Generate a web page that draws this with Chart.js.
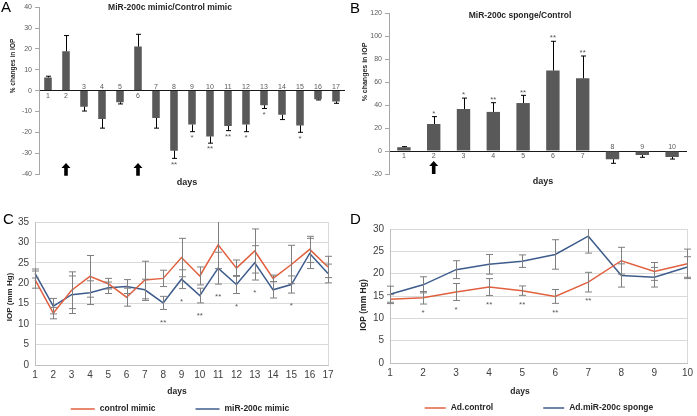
<!DOCTYPE html>
<html>
<head>
<meta charset="utf-8">
<script src="https://cdn.jsdelivr.net/npm/chart.js@4.4.1/dist/chart.umd.min.js"></script>
<style>
  html, body { margin: 0; padding: 0; background: #fff; }
  body { width: 697px; height: 416px; position: relative; overflow: hidden; }
  canvas { position: absolute; }
</style>
</head>
<body>
<canvas id="chartA" width="350" height="200" style="left:0;top:0"></canvas>
<canvas id="chartB" width="347" height="200" style="left:350px;top:0"></canvas>
<canvas id="chartC" width="350" height="206" style="left:0;top:210px"></canvas>
<canvas id="chartD" width="347" height="206" style="left:350px;top:210px"></canvas>
<script>
// A: % change in IOP, miR-200c mimic vs control mimic
const daysA = ['1','2','3','4','5','6','7','8','9','10','11','12','13','14','15','16','17'];
const changeA = [6.3, 18.9, -7.7, -13.6, -5.6, 21.1, -13.1, -28.8, -16.3, -22, -17, -16.3, -7, -11.6, -16.7, -4.2, -5.2];
const errA = [0.6, 7.5, 2.1, 4.4, 0.8, 5.9, 4.9, 3.7, 3.4, 3.2, 2.2, 3.4, 1.6, 2.3, 3.3, 0.3, 0.9];
const sigA = ['', '', '', '', '', '', '', '**', '*', '**', '**', '*', '*', '', '*', '', ''];
const arrowDaysA = ['2', '6'];

// B: % change in IOP, miR-200c sponge vs control
const daysB = ['1','2','3','4','5','6','7','8','9','10'];
const changeB = [3.3, 23.5, 36.5, 34, 41.7, 70, 63.2, -7.2, -3.5, -5.2];
const errB = [0.5, 6.4, 9.5, 8, 6.7, 25.4, 19.4, 3.5, 2, 1.8];
const sigB = ['', '*', '*', '**', '**', '**', '**', '', '', ''];
const arrowDaysB = ['2'];

// C: IOP (mm Hg)
const daysC = ['1','2','3','4','5','6','7','8','9','10','11','12','13','14','15','16','17'];
const controlMimic = [20.9, 12.7, 18.3, 21.7, 19.9, 16.6, 20.8, 21.2, 26.3, 21.8, 29.4, 23.7, 27.9, 21.2, 24.6, 28.3, 24];
const controlMimicErr = [2.1, 1.4, 4.5, 5.1, 1.3, 2.2, 4.6, 2, 4.7, 2.2, 5.8, 2, 5.4, 0.8, 4.7, 3.2, 2.6];
const mimic200c = [22.4, 14.4, 17.2, 17.7, 18.9, 19.2, 18.4, 15.2, 21, 17, 23.7, 19.7, 25, 18.4, 19.7, 27.3, 22.4];
const mimic200cErr = [1.1, 1.9, 4.6, 2.9, 1.4, 1.7, 2.6, 1.6, 2.3, 1.8, 3.9, 2.2, 4.2, 2, 2.1, 3.7, 2.3];
const sigC = ['', '', '', '', '', '', '', '**', '*', '**', '**', '*', '*', '', '*', '', ''];

// D: IOP (mm Hg)
const daysD = ['1','2','3','4','5','6','7','8','9','10'];
const adControl = [14.3, 14.6, 15.9, 17, 16.2, 14.9, 18.1, 22.9, 20.5, 22.2];
const adControlErr = [1, 1.4, 1.9, 1.9, 1.05, 1.55, 2.2, 3, 2, 3.3];
const adSponge = [15.4, 17.5, 20.9, 22.1, 22.8, 24.3, 28.4, 19.6, 19.2, 21.5];
const adSpongeErr = [1.8, 1.8, 2, 2.2, 1.4, 3.3, 3.8, 2.6, 2.2, 2.3];
const sigD = ['', '*', '*', '**', '**', '**', '**', '', '', ''];

const FONT = "'Liberation Sans', Arial, sans-serif";
const BAR = '#595959';
const RED = '#e0603f';
const BLUE = '#3e5c8c';
Chart.defaults.font.family = FONT;

function upArrow(ctx, cx, yTop, yBot) {
  const hw = 4.5, sw = 1.8, hh = 5;
  ctx.beginPath();
  ctx.moveTo(cx, yTop);
  ctx.lineTo(cx + hw, yTop + hh);
  ctx.lineTo(cx + sw, yTop + hh);
  ctx.lineTo(cx + sw, yBot);
  ctx.lineTo(cx - sw, yBot);
  ctx.lineTo(cx - sw, yTop + hh);
  ctx.lineTo(cx - hw, yTop + hh);
  ctx.closePath();
  ctx.fill();
}

// error bars, stars, arrows, titles, legend
const extras = {
  id: 'extras',
  afterDraw(chart, args, o) {
    const { ctx, chartArea: area } = chart;
    const x = chart.scales.x, y = chart.scales.y;
    const labels = chart.data.labels;

    // error bars
    ctx.save();
    ctx.beginPath();
    ctx.rect(area.left - 10, area.top, area.right - area.left + 20, area.bottom - area.top);
    ctx.clip();
    ctx.strokeStyle = o.errColor;
    ctx.lineWidth = 1;
    chart.data.datasets.forEach(ds => {
      ds.errors.forEach((e, j) => {
        const v = ds.data[j];
        const px = Math.round(x.getPixelForValue(j)) + 0.5;
        let hi, lo;
        if (o.oneSided) { hi = v; lo = v + (v >= 0 ? e : -e); }
        else { hi = v + e; lo = v - e; }
        const p1 = y.getPixelForValue(hi), p2 = y.getPixelForValue(lo);
        ctx.beginPath();
        ctx.moveTo(px, p1); ctx.lineTo(px, p2);
        if (!o.oneSided) { ctx.moveTo(px - o.cap, p1); ctx.lineTo(px + o.cap, p1); }
        ctx.moveTo(px - o.cap, p2); ctx.lineTo(px + o.cap, p2);
        ctx.stroke();
      });
    });
    ctx.restore();

    ctx.save();
    // significance stars
    ctx.fillStyle = '#595959';
    ctx.font = `${o.sigSize}px ${FONT}`;
    ctx.textAlign = 'center';
    o.sig.forEach((s, j) => {
      if (!s) return;
      const px = x.getPixelForValue(j);
      if (o.oneSided) {
        const ds = chart.data.datasets[0];
        const v = ds.data[j], e = ds.errors[j];
        const end = y.getPixelForValue(v + (v >= 0 ? e : -e));
        if (v >= 0) { ctx.textBaseline = 'bottom'; ctx.fillText(s, px, end + 1); }
        else { ctx.textBaseline = 'top'; ctx.fillText(s, px, end + 2); }
      } else {
        const low = Math.min(...chart.data.datasets.map(ds => ds.data[j] - ds.errors[j]));
        ctx.textBaseline = 'top';
        ctx.fillText(s, px, y.getPixelForValue(low) + o.sigGap);
      }
    });

    // category labels next to the zero line
    if (o.catLabels) {
      const zero = y.getPixelForValue(0);
      ctx.font = `7px ${FONT}`;
      ctx.fillStyle = '#595959';
      chart.data.datasets[0].data.forEach((v, j) => {
        const px = x.getPixelForValue(j);
        if (v >= 0) { ctx.textBaseline = 'top'; ctx.fillText(labels[j], px, zero + 1.5); }
        else { ctx.textBaseline = 'bottom'; ctx.fillText(labels[j], px, zero); }
      });
    }

    // dosing arrows
    if (o.arrows) {
      ctx.fillStyle = '#000';
      o.arrows.forEach(d => {
        const px = x.getPixelForValue(labels.indexOf(d));
        upArrow(ctx, px, y.getPixelForValue(o.arrowFrom), y.getPixelForValue(o.arrowTo));
      });
    }

    // panel letter
    ctx.fillStyle = '#000';
    ctx.font = `15px ${FONT}`;
    ctx.textAlign = 'left';
    ctx.textBaseline = 'top';
    ctx.fillText(o.letter, o.letterX, o.letterY);

    // panel title
    if (o.title) {
      ctx.font = `bold 8.5px ${FONT}`;
      ctx.fillStyle = '#262626';
      ctx.textAlign = 'center';
      ctx.textBaseline = 'middle';
      ctx.fillText(o.title, o.titleX, o.titleY);
    }

    // axis titles
    ctx.fillStyle = '#262626';
    ctx.textAlign = 'center';
    ctx.textBaseline = 'middle';
    ctx.font = `bold ${o.days.size}px ${FONT}`;
    ctx.fillText('days', o.days.x, o.days.y);
    ctx.save();
    ctx.translate(o.yTitle.x, o.yTitle.y);
    ctx.rotate(-Math.PI / 2);
    ctx.font = `bold ${o.yTitle.size}px ${FONT}`;
    ctx.fillText(o.yTitle.text, 0, 0);
    ctx.restore();

    // legend
    if (o.legend) {
      const L = o.legend;
      ctx.font = `bold ${L.size}px ${FONT}`;
      const items = chart.data.datasets.map(ds => ({ label: ds.label, color: ds.borderColor, w: ctx.measureText(ds.label).width }));
      const total = items.reduce((s, it) => s + L.line + 5 + it.w, 0) + L.gap * (items.length - 1);
      let cx = L.cx - total / 2;
      items.forEach(it => {
        ctx.strokeStyle = it.color;
        ctx.lineWidth = 1.5;
        ctx.beginPath();
        ctx.moveTo(cx, L.y); ctx.lineTo(cx + L.line, L.y);
        ctx.stroke();
        ctx.fillStyle = '#262626';
        ctx.textAlign = 'left';
        ctx.fillText(it.label, cx + L.line + 5, L.y);
        cx += L.line + 5 + it.w + L.gap;
      });
    }
    ctx.restore();
  }
};

function barChart(id, labels, values, errors, opts) {
  return new Chart(document.getElementById(id), {
    type: 'bar',
    data: {
      labels: labels,
      datasets: [{
        data: values,
        errors: errors,
        backgroundColor: BAR,
        barPercentage: opts.barPct,
        categoryPercentage: 1
      }]
    },
    options: {
      responsive: false,
      animation: false,
      layout: { padding: opts.padding },
      plugins: {
        legend: { display: false },
        tooltip: { enabled: false },
        extras: opts.extras
      },
      scales: {
        x: { display: false },
        y: {
          min: opts.min, max: opts.max,
          afterFit: s => { s.width = 39; },
          ticks: { stepSize: opts.step, font: { size: 7 }, color: '#595959', padding: 3 },
          grid: {
            color: c => c.tick.value === 0 ? '#1a1a1a' : 'transparent',
            tickColor: '#a6a6a6',
            tickLength: 4
          },
          border: { color: '#a6a6a6' }
        }
      }
    },
    plugins: [extras]
  });
}

function lineChart(id, labels, series, opts) {
  return new Chart(document.getElementById(id), {
    type: 'line',
    data: {
      labels: labels,
      datasets: series.map(s => ({
        label: s.label,
        data: s.data,
        errors: s.errors,
        borderColor: s.color,
        backgroundColor: s.color,
        borderWidth: 1.5,
        pointRadius: 0,
        tension: 0
      }))
    },
    options: {
      responsive: false,
      animation: false,
      layout: { padding: opts.padding },
      plugins: {
        legend: { display: false },
        tooltip: { enabled: false },
        extras: opts.extras
      },
      scales: {
        x: {
          offset: false,
          afterFit: s => { s.height = 18; },
          ticks: { font: { size: 10 }, color: '#404040', padding: 4, maxRotation: 0, autoSkip: false },
          grid: {
            color: c => c.index === labels.length - 1 ? '#d9d9d9' : 'transparent',
            drawTicks: false
          },
          border: { color: '#bfbfbf' }
        },
        y: {
          min: 0, max: opts.max,
          afterFit: s => { s.width = opts.yWidth; },
          ticks: { stepSize: 5, font: { size: 10 }, color: '#404040', padding: 6 },
          grid: { color: '#d9d9d9', drawTicks: false },
          border: { color: '#bfbfbf' }
        }
      }
    },
    plugins: [extras]
  });
}

barChart('chartA', daysA, changeA, errA, {
  barPct: 0.42, min: -40, max: 40, step: 10,
  padding: { left: 0, top: 5, right: 5, bottom: 26 },
  extras: {
    letter: 'A', letterX: 1, letterY: 0,
    title: 'MiR-200c mimic/Control mimic', titleX: 170, titleY: 8,
    yTitle: { text: '% changes in IOP', x: 13, y: 66, size: 6.5 },
    days: { x: 187, y: 183, size: 9 },
    oneSided: true, errColor: '#000', cap: 2.5,
    sig: sigA, sigSize: 8,
    catLabels: true,
    arrows: arrowDaysA, arrowFrom: -34.7, arrowTo: -40.8
  }
});

barChart('chartB', daysB, changeB, errB, {
  barPct: 0.45, min: -20, max: 120, step: 20,
  padding: { left: 0, top: 13, right: 10, bottom: 26 },
  extras: {
    letter: 'B', letterX: 0, letterY: 1,
    title: 'MiR-200c sponge/Control', titleX: 170, titleY: 16,
    yTitle: { text: '% changes in IOP', x: 15, y: 72, size: 7 },
    days: { x: 193, y: 182, size: 9 },
    oneSided: true, errColor: '#000', cap: 2.5,
    sig: sigB, sigSize: 8,
    catLabels: true,
    arrows: arrowDaysB, arrowFrom: -8.7, arrowTo: -20
  }
});

lineChart('chartC', daysC, [
  { label: 'control mimic', data: controlMimic, errors: controlMimicErr, color: RED },
  { label: 'miR-200c mimic', data: mimic200c, errors: mimic200cErr, color: BLUE }
], {
  max: 35, yWidth: 35,
  padding: { left: 0, top: 7, right: 22, bottom: 33 },
  extras: {
    letter: 'C', letterX: 3, letterY: 2,
    yTitle: { text: 'IOP (mm Hg)', x: 10, y: 87, size: 8 },
    days: { x: 177, y: 182, size: 8.5 },
    oneSided: false, errColor: '#7f7f7f', cap: 3.5,
    sig: sigC, sigSize: 8, sigGap: 9,
    legend: { cx: 180, y: 199, line: 24, gap: 40, size: 8.5 }
  }
});

lineChart('chartD', daysD, [
  { label: 'Ad.control', data: adControl, errors: adControlErr, color: RED },
  { label: 'Ad.miR-200c sponge', data: adSponge, errors: adSpongeErr, color: BLUE }
], {
  max: 30, yWidth: 40,
  padding: { left: 0, top: 19, right: 9, bottom: 35 },
  extras: {
    letter: 'D', letterX: 0, letterY: 2,
    yTitle: { text: 'IOP (mm Hg)', x: 14, y: 95, size: 8.5 },
    days: { x: 170, y: 182, size: 8.5 },
    oneSided: false, errColor: '#7f7f7f', cap: 3.5,
    sig: sigD, sigSize: 8, sigGap: 5,
    legend: { cx: 189, y: 198, line: 21, gap: 50, size: 8.5 }
  }
});
</script>
</body>
</html>
